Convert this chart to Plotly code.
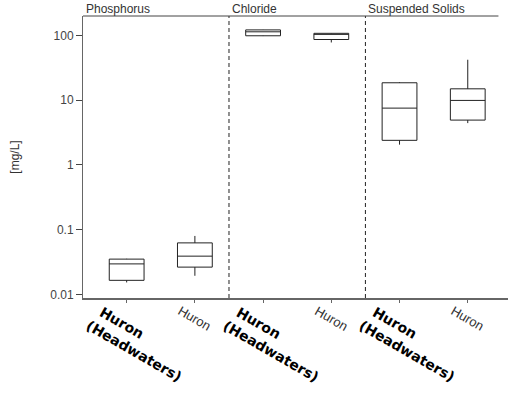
import plotly.graph_objects as go
import math

# ---- data ----
panels = ["Phosphorus", "Chloride", "Suspended Solids"]
sites = ["Huron<br>(Headwaters)", "Huron"]
positions = [0, 1, 2, 3, 4, 5]
q1 = [0.0165, 0.0264, 99.0, 86.7, 2.4, 4.93]
median = [0.0296, 0.039, 114.0, 104.0, 7.55, 9.93]
q3 = [0.0351, 0.0625, 122.0, 108.0, 18.6, 15.0]
lowerfence = [0.0153, 0.0194, 98.0, 78.0, 2.06, 4.43]
upperfence = [0.0355, 0.080, 122.5, 109.0, 19.0, 42.2]
bold_label = [True, False, True, False, True, False]
y_ticks = [0.01, 0.1, 1, 10, 100]
y_ticktext = ["0.01", "0.1", "1", "10", "100"]

W, H = 509, 394
fig = go.Figure()
fig.add_trace(go.Box(
    x=positions, q1=q1, median=median, q3=q3,
    lowerfence=lowerfence, upperfence=upperfence,
    fillcolor="white", line=dict(color="#222", width=1),
    width=0.51, whiskerwidth=0, boxpoints=False, showlegend=False,
))

xr = [-0.64, 5.59]
# panel dividers
for xd in [1.5, 3.5]:
    fig.add_shape(type="line", xref="x", yref="paper", x0=xd, x1=xd, y0=0, y1=1,
                  line=dict(color="#222", width=1, dash="4px,3px"))
# top line
fig.add_shape(type="line", xref="x", yref="paper", x0=xr[0], x1=5.45, y0=1, y1=1,
              line=dict(color="#444", width=1))

# panel titles
for i, p in enumerate(panels):
    x0 = xr[0] if i == 0 else [1.5, 3.5][i - 1]
    fig.add_annotation(x=x0, y=1, xref="x", yref="paper", text=p, showarrow=False,
                       xanchor="left", yanchor="bottom", xshift=1, yshift=-2,
                       font=dict(family="Liberation Sans", size=12, color="#333"))

# x labels
for i, pos in enumerate(positions):
    txt = sites[i % 2]
    if bold_label[i]:
        fig.add_annotation(x=pos, y=0, xref="x", yref="paper",
                           text="<b>&nbsp;" + txt + "</b>",
                           showarrow=False, textangle=30, xanchor="center", yanchor="middle",
                           xshift=12, yshift=-45, align="left",
                           font=dict(family="DejaVu Sans", size=14, color="#000"))
    else:
        fig.add_annotation(x=pos, y=0, xref="x", yref="paper", text=txt,
                           showarrow=False, textangle=30, xanchor="center", yanchor="middle",
                           xshift=0, yshift=-20,
                           font=dict(family="Liberation Sans", size=13, color="#333"))

fig.update_layout(
    width=W, height=H,
    margin=dict(l=83, r=1, t=16, b=96),
    paper_bgcolor="white", plot_bgcolor="white",
    xaxis=dict(range=xr, tickvals=positions, showticklabels=False, showgrid=False,
               zeroline=False, showline=True, linecolor="#666", linewidth=2,
               ticks="outside", ticklen=3, tickcolor="#666"),
    yaxis=dict(type="log", range=[math.log10(0.0088), math.log10(200)],
               tickvals=y_ticks, ticktext=y_ticktext, showgrid=False, zeroline=False,
               showline=True, linecolor="#666", linewidth=1, ticks="outside",
               ticklen=6, tickcolor="#444",
               tickfont=dict(family="Liberation Sans", size=12, color="#444"),
               title=dict(text="[mg/L]", standoff=28,
                          font=dict(family="Liberation Sans", size=12, color="#333"))),
)
fig.write_html("out.html")
